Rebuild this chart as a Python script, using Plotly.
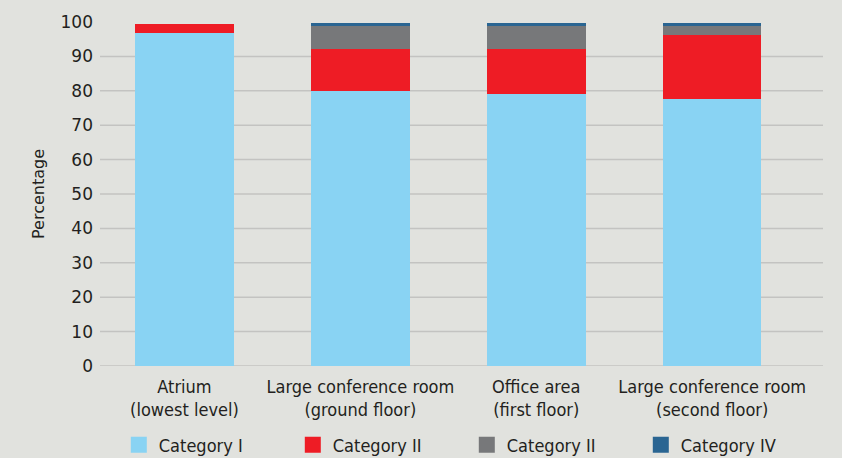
import plotly.graph_objects as go

BG = "#e1e2de"
GRID = "#c3c3c1"
INK = "#231f20"

rooms = [
    "Atrium<br>(lowest level)",
    "Large conference room<br>(ground floor)",
    "Office area<br>(first floor)",
    "Large conference room<br>(second floor)",
]
series_names = ["Category I", "Category II", "Category II ", "Category IV"]
series_colors = ["#89d3f3", "#ee1c25", "#77787a", "#2a6592"]

cat_1 = [96.8, 79.9, 79.2, 77.6]
cat_2 = [2.6, 12.3, 13.0, 18.6]
cat_3 = [0.0, 6.7, 6.7, 2.7]
cat_4 = [0.0, 0.8, 0.8, 0.8]
y_ticks = list(range(0, 101, 10))

COND = "DejaVu Sans Condensed, DejaVu Sans, sans-serif"

fig = go.Figure()
for name, vals, col in zip(series_names, [cat_1, cat_2, cat_3, cat_4], series_colors):
    fig.add_trace(go.Bar(
        x=list(range(len(rooms))), y=vals, name=name,
        marker=dict(color=col, line=dict(width=0)),
        width=0.56, showlegend=False,
    ))
# legend entries with larger square swatches
for name, col in zip(series_names, series_colors):
    fig.add_trace(go.Scatter(
        x=[None], y=[None], mode="markers", name=name,
        marker=dict(symbol="square", size=16, color=col),
    ))

# horizontal grid lines (0..90 only, none at the top)
for v in y_ticks[:-1]:
    fig.add_shape(type="line", xref="paper", yref="y", x0=0, x1=1, y0=v, y1=v,
                  line=dict(color=GRID, width=1.5), layer="below")

fig.update_layout(
    barmode="stack",
    width=842, height=458,
    margin=dict(l=100, r=19, t=22, b=92, autoexpand=False),
    paper_bgcolor=BG, plot_bgcolor=BG,
    bargap=0,
    legend=dict(
        orientation="h", traceorder="normal",
        x=0.026, y=-0.23, xanchor="left", yanchor="middle",
        entrywidth=129, entrywidthmode="pixels",
        font=dict(family=COND, size=18, color=INK),
        bgcolor="rgba(0,0,0,0)", itemclick=False,
    ),
)
fig.update_xaxes(
    range=[-0.48, 3.63], tickmode="array",
    tickvals=list(range(len(rooms))), ticktext=rooms,
    showgrid=False, zeroline=False, showline=False, ticks="",
    ticklabelstandoff=8,
    tickfont=dict(family=COND, size=18, color=INK),
)
fig.update_yaxes(
    range=[0, 100], tickvals=y_ticks, showgrid=False, zeroline=False,
    showline=False, ticks="", ticklabelstandoff=6,
    tickfont=dict(family="DejaVu Sans", size=17, color=INK),
    title=dict(text="Percentage", font=dict(family="DejaVu Sans", size=16, color=INK), standoff=11),
)

fig.write_html("out.html", config={"displayModeBar": False},
               post_script="document.body.style.margin='0';")
